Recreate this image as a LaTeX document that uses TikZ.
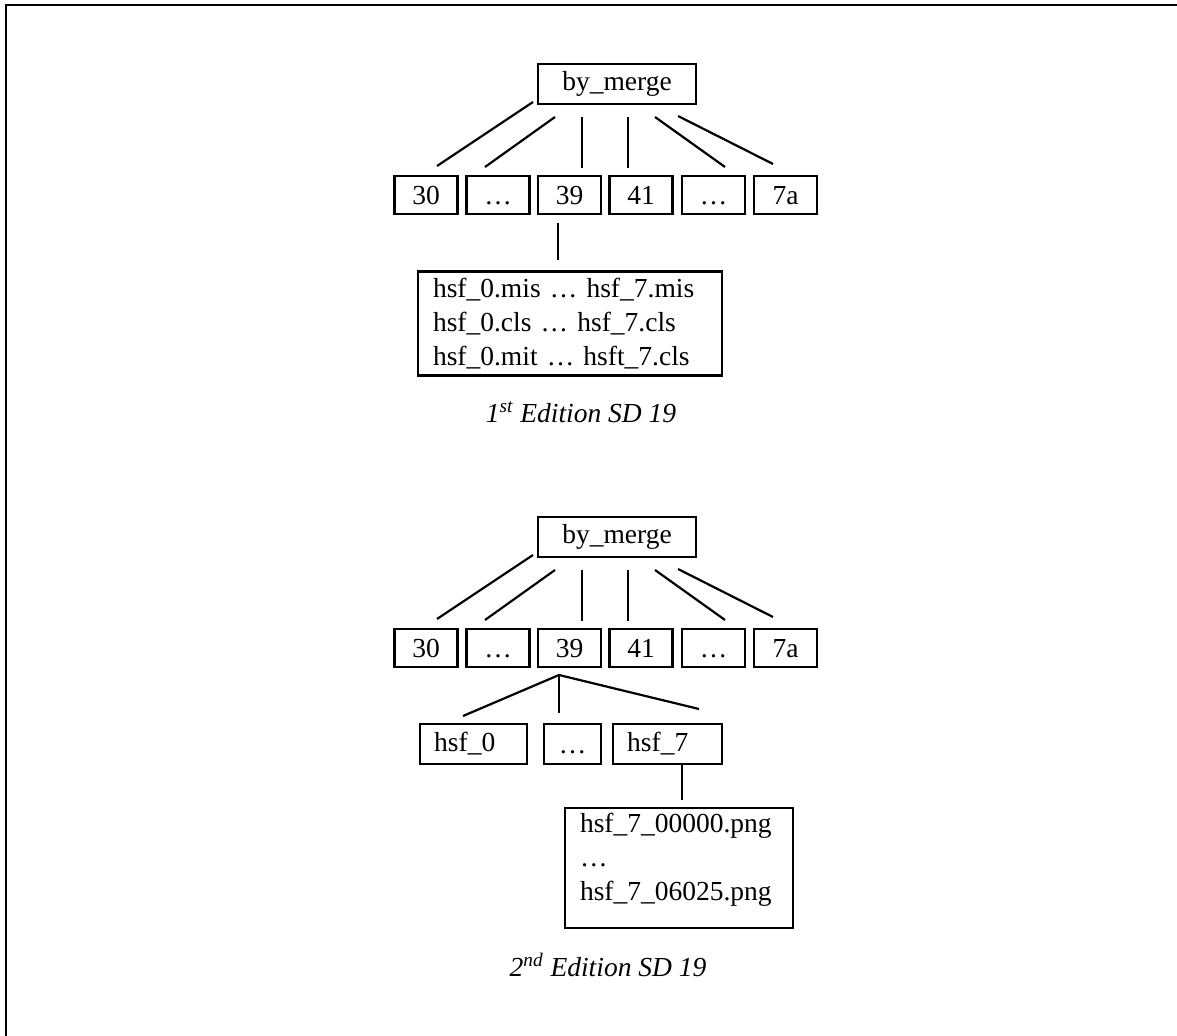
\documentclass[tikz,border=0pt]{standalone}
\usepackage{fontspec}
\setmainfont{Liberation Serif}
\usepackage{tikz}
\usetikzlibrary{calc}

\begin{document}
\begin{tikzpicture}[x=0.5pt, y=-0.5pt, line width=1.1pt,
    box/.style={draw, line width=1.2pt, inner sep=0pt, minimum width=31.5pt, minimum height=18.8pt, text height=9.3pt, text depth=0pt, font=\fontsize{13.75}{17}\selectfont},
    listbox/.style={draw, line width=1.2pt, inner xsep=7pt, inner ysep=0pt, align=left, font=\fontsize{13.75}{17}\selectfont},
    caption/.style={font=\fontsize{13.75}{17}\selectfont\itshape}]

    \useasboundingbox (0,0) rectangle (1177,1036);
    \draw [line width=1.3pt] (1177,5) -- (6,5) -- (6,1036);

    % first edition
    \node [box, minimum width=78.8pt, minimum height=19.8pt, text height=9.6pt, text depth=2.9pt] (bm1) at (617,84) {by\_merge};
    \node [box] (a30) at (426,195) {30};
    \node [box] (ad1) at (498,195) {…};
    \node [box] (a39) at (569.5,195) {39};
    \node [box] (a41) at (641,195) {41};
    \node [box] (ad2) at (713.5,195) {…};
    \node [box] (a7a) at (785.5,195) {7a};
    \node [listbox, inner xsep=7.5pt, text width=137pt, minimum height=52pt] (files1) at (570,323.5)
        {hsf\_0.mis … hsf\_7.mis\\ hsf\_0.cls … hsf\_7.cls\\ hsf\_0.mit … hsft\_7.cls};
    \node [caption] (cap1) at (581,412) {1\textsuperscript{st} Edition SD 19};

    \draw ($(bm1.south west)+(-4,-3)$) -- ($(a30.north)+(11,-9)$);
    \draw ($(bm1.south west)+(18,12)$) -- ($(ad1.north)+(-13,-8)$);
    \draw ($(bm1.south west)+(45,12)$) -- ($(a39.north)+(12.5,-7)$);
    \draw ($(bm1.south)+(11,12)$) -- ($(a41.north)+(-13,-7)$);
    \draw ($(bm1.south)+(38,12)$) -- ($(ad2.north)+(11.5,-8)$);
    \draw ($(bm1.south east)+(-19,11)$) -- ($(a7a.north)+(-12.5,-11)$);
    \draw ($(a39.south)+(-11.5,8)$) -- ($(files1.north)+(-12,-10)$);

    % second edition
    \node [box, minimum width=78.8pt, minimum height=19.8pt, text height=9.6pt, text depth=2.9pt] (bm2) at (617,537) {by\_merge};
    \node [box] (b30) at (426,648) {30};
    \node [box] (bd1) at (498,648) {…};
    \node [box] (b39) at (569.5,648) {39};
    \node [box] (b41) at (641,648) {41};
    \node [box] (bd2) at (713.5,648) {…};
    \node [box] (b7a) at (785.5,648) {7a};
    \node [listbox, text width=39.3pt, minimum height=19.8pt] (h0) at (473.5,744) {hsf\_0};
    \node [box, minimum width=28.3pt, minimum height=19.8pt] (hd) at (572.5,744) {…};
    \node [listbox, text width=40.3pt, minimum height=19.8pt] (h7) at (667.5,744) {hsf\_7};
    \node [listbox, inner xsep=7.5pt, text width=99pt, minimum height=59.8pt] (png) at (679,868)
        {hsf\_7\_00000.png\\ …\\ hsf\_7\_06025.png\rule[-11pt]{0pt}{11pt}};
    \node [caption] (cap2) at (608,965) {2\textsuperscript{nd} Edition SD 19};

    \draw ($(bm2.south west)+(-4,-3)$) -- ($(b30.north)+(11,-9)$);
    \draw ($(bm2.south west)+(18,12)$) -- ($(bd1.north)+(-13,-8)$);
    \draw ($(bm2.south west)+(45,12)$) -- ($(b39.north)+(12.5,-7)$);
    \draw ($(bm2.south)+(11,12)$) -- ($(b41.north)+(-13,-7)$);
    \draw ($(bm2.south)+(38,12)$) -- ($(bd2.north)+(11.5,-8)$);
    \draw ($(bm2.south east)+(-19,11)$) -- ($(b7a.north)+(-12.5,-11)$);
    \coordinate (fan) at ($(b39.south)+(-10.5,7)$);
    \draw ($(h0.north)+(-10.5,-7)$) -- (fan) -- ($(h7.north)+(31.5,-14)$);
    \draw (fan) -- ($(hd.north)+(-13.5,-10)$);
    \draw ($(h7.south)+(14.5,0)$) -- ($(png.north)+(3,-7)$);
\end{tikzpicture}
\end{document}
